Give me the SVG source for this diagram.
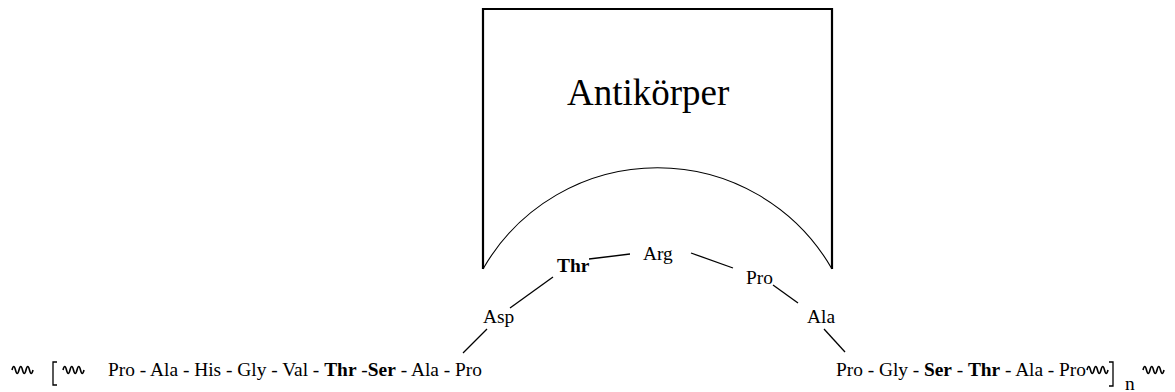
<svg xmlns="http://www.w3.org/2000/svg" width="1175" height="392" viewBox="0 0 1175 392">
<style>
.t{font-size:19.4px}
.b{font-weight:bold}
.ln{stroke:#000;stroke-width:1.3;fill:none}
.wv{stroke:#000;stroke-width:1.6;fill:none;stroke-linejoin:round}
</style>
<rect width="1175" height="392" fill="#fff"/>
<g font-family="Liberation Serif, Times New Roman, serif" fill="#000">
<g id="antibody">
<path d="M483 269 V9 H832 V269" fill="none" stroke="#000" stroke-width="2.2"/>
<path d="M483 269 A201 201 0 0 1 832 269" fill="none" stroke="#000" stroke-width="1.1"/>
<text x="567" y="105" font-size="37">Antikörper</text>
</g>
<g id="connectors">
<line class="ln" x1="589" y1="259" x2="630" y2="254"/>
<line class="ln" x1="691" y1="253" x2="733" y2="268"/>
<line class="ln" x1="773" y1="285" x2="798" y2="303"/>
<line class="ln" x1="824" y1="329" x2="845" y2="352"/>
<line class="ln" x1="553" y1="277" x2="510" y2="308"/>
<line class="ln" x1="487" y1="329" x2="463" y2="353"/>
</g>
<g id="node-thr"><text class="t b" x="557" y="272">Thr</text></g>
<g id="node-arg"><text class="t" x="643" y="260">Arg</text></g>
<g id="node-pro"><text class="t" x="746" y="284">Pro</text></g>
<g id="node-ala"><text class="t" x="807" y="323">Ala</text></g>
<g id="node-asp"><text class="t" x="483" y="323">Asp</text></g>
<g id="chain-left">
<path class="wv" d="M12 370 q1.75 -7 3.5 0 t3.5 0 t3.5 0 t3.5 0 t3.5 0 t3.5 0"/>
<path class="ln" d="M57 362 H53 V385 H57"/>
<path class="wv" d="M63 370 q1.75 -7 3.5 0 t3.5 0 t3.5 0 t3.5 0 t3.5 0 t3.5 0"/>
<text class="t" x="108" y="376" textLength="374" lengthAdjust="spacing">Pro - Ala - His - Gly - Val - <tspan class="b">Thr</tspan> -<tspan class="b">Ser</tspan> - Ala - Pro</text>
</g>
<g id="chain-right">
<text class="t" x="836" y="376" textLength="250" lengthAdjust="spacing">Pro - Gly - <tspan class="b">Ser</tspan> - <tspan class="b">Thr</tspan> - Ala - Pro</text>
<path class="wv" d="M1087 370 q1.75 -7 3.5 0 t3.5 0 t3.5 0 t3.5 0 t3.5 0 t3.5 0"/>
<path class="ln" d="M1109 362 H1113 V386 H1109"/>
<text class="t" x="1125" y="390">n</text>
<path class="wv" d="M1143 370 q1.75 -7 3.5 0 t3.5 0 t3.5 0 t3.5 0 t3.5 0 t3.5 0"/>
</g>
</g>
</svg>
